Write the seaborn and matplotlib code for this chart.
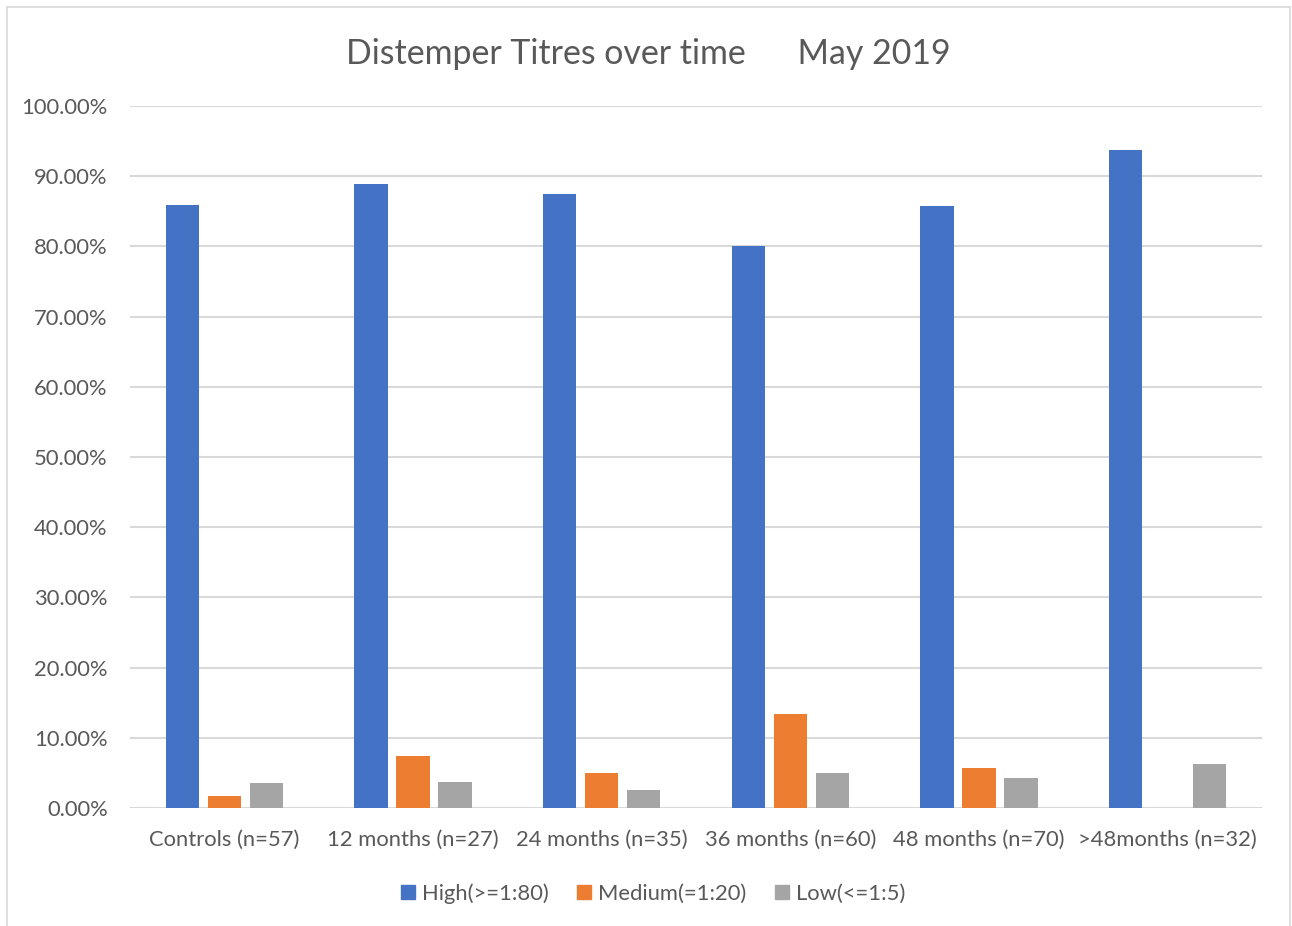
import matplotlib
matplotlib.use("Agg")
import matplotlib.pyplot as plt
import matplotlib.patches as mpatches
from matplotlib.ticker import PercentFormatter
import numpy as np
import pandas as pd
import seaborn as sns

# data (fraction of dogs per titre level)
categories = ["Controls (n=57)", "12 months (n=27)", "24 months (n=35)",
              "36 months (n=60)", "48 months (n=70)", ">48months (n=32)"]
series_names = ["High(>=1:80)", "Medium(=1:20)", "Low(<=1:5)"]
high = [0.8596, 0.8889, 0.8750, 0.8000, 0.8571, 0.9375]
medium = [0.0175, 0.0741, 0.0500, 0.1333, 0.0571, 0.0]
low = [0.0351, 0.0370, 0.0250, 0.0500, 0.0429, 0.0625]
yticks = np.arange(0, 1.01, 0.1)

# long format table for seaborn
rows = []
for name, vals in zip(series_names, [high, medium, low]):
    for cat, v in zip(categories, vals):
        rows.append({"group": cat, "level": name, "pct": v})
df = pd.DataFrame(rows)

sns.set_theme(style="white")
plt.rcParams["font.family"] = ["Lato", "DejaVu Sans"]

text_color = "#595959"
grid_color = "#d9d9d9"
palette = {"High(>=1:80)": "#4472C4", "Medium(=1:20)": "#ED7D31", "Low(<=1:5)": "#A5A5A5"}

fig = plt.figure(figsize=(12.92, 9.26), dpi=100)
ax = fig.add_axes([130 / 1292, 1 - 808 / 926, (1262 - 130) / 1292, (808 - 106) / 926])

sns.barplot(data=df, x="group", y="pct", hue="level", order=categories,
            hue_order=series_names, palette=palette, width=0.668, gap=0.21,
            linewidth=0, saturation=1, ax=ax, legend=False, zorder=3)

ax.set_ylim(0, 1.0)
ax.set_xlim(-0.5, len(categories) - 0.5)
ax.set_yticks(yticks)
ax.yaxis.set_major_formatter(PercentFormatter(1.0, decimals=2))
ax.grid(axis="y", color=grid_color, linewidth=1.5, zorder=0)
ax.grid(axis="x", visible=False)
for s in ax.spines.values():
    s.set_visible(False)
ax.set_xlabel("")
ax.set_ylabel("")
ax.tick_params(axis="y", length=0, pad=16, labelsize=15.8, labelcolor=text_color)
ax.tick_params(axis="x", length=0, pad=15.5, labelsize=15.8, labelcolor=text_color)

fig.text(0.5 * (347 + 950) / 1292, 1 - 53.5 / 926,
         "Distemper Titres over time      May 2019",
         ha="center", va="center", fontsize=24.4, color=text_color)

handles = [mpatches.Patch(color=palette[n], label=n) for n in series_names]
fig.legend(handles=handles, loc="center", bbox_to_anchor=(653 / 1292, 1 - 893.5 / 926),
           ncol=3, frameon=False, fontsize=15.8, labelcolor=text_color,
           handlelength=0.65, handleheight=0.65, handletextpad=0.3,
           columnspacing=1.3)

# outer chart border like the spreadsheet chart area
fig.patches.append(mpatches.Rectangle((7 / 1292, -0.01), 1283 / 1292, 1 - 7 / 926 + 0.01,
                                      transform=fig.transFigure, fill=False,
                                      edgecolor="#d9d9d9", linewidth=1.2))

fig.savefig("out.png", dpi=100)
